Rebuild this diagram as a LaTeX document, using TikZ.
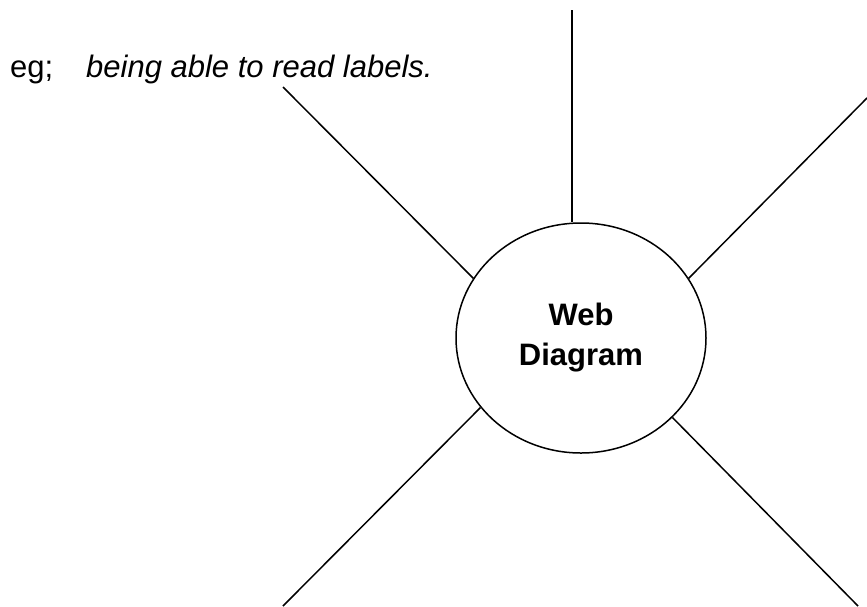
\documentclass[tikz,border=0pt]{standalone}
\usepackage{fontspec}
\setmainfont{Liberation Sans}
\usetikzlibrary{shapes.geometric}
\begin{document}
\begin{tikzpicture}[x=1pt,y=-1pt,
  spoke/.style={draw=black,line width=1.5pt},
  hub/.style={ellipse,draw=black,line width=1.5pt,inner sep=0pt,
    minimum width=250pt,minimum height=230pt,align=center,
    font=\fontsize{31}{40}\selectfont\bfseries},
  note/.style={anchor=base west,inner sep=0pt,font=\fontsize{31}{37}\selectfont}]
\useasboundingbox (0,0) rectangle (867,606);
\node[hub] (web) at (581,338) {Web\\Diagram};
\node[note] (eg) at (10,77) {eg;};
\node[note,font=\fontsize{31}{37}\selectfont\itshape] (ex) at (86,77) {being able to read labels.};
\coordinate (ctop) at (572,10);
\coordinate (cul) at (283,87);
\coordinate (cur) at (867,98);
\coordinate (cll) at (283,606);
\coordinate (clr) at (858,606);
\draw[spoke] (ctop) -- (ctop |- web.north);
\draw[spoke] (cul) -- (web.151);
\draw[spoke] (cur) -- (web.29.5);
\draw[spoke] (cll) -- ([shift={(-2pt,2pt)}]web.216);
\draw[spoke] (clr) -- (web.-41.6);
\end{tikzpicture}
\end{document}
